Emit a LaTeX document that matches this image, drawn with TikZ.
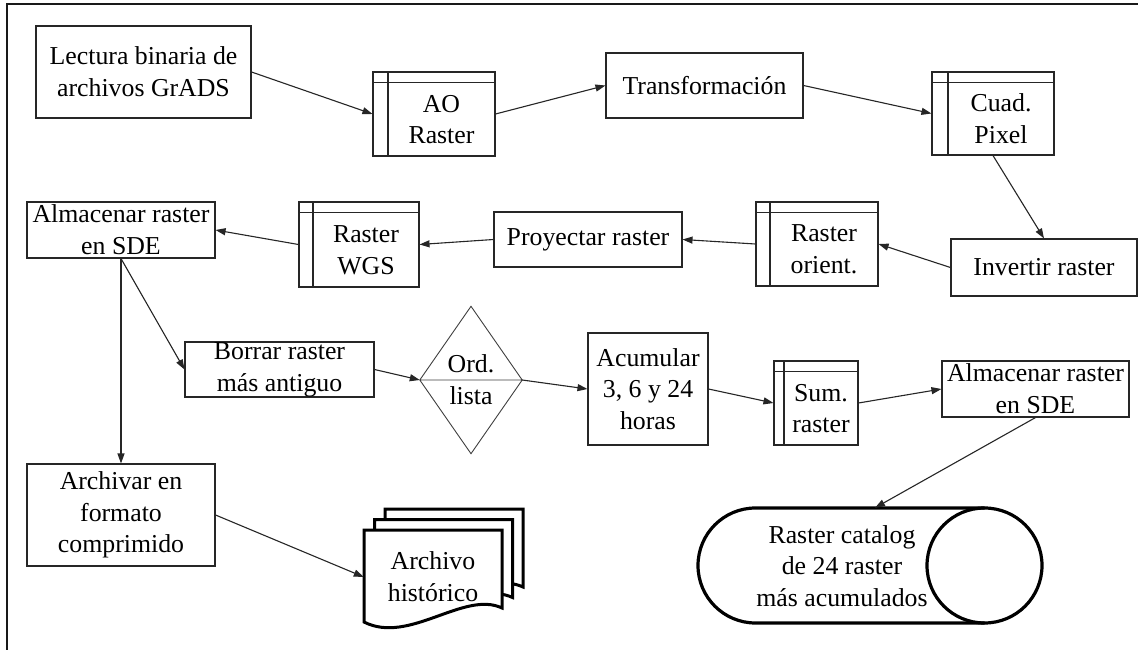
\documentclass[tikz,border=0pt]{standalone}
\usepackage{fontspec}
\setmainfont{Liberation Serif}
\usetikzlibrary{arrows.meta,calc}
\begin{document}
\begin{tikzpicture}[x=1pt,y=1pt,
  txt/.style={align=center,font=\fontsize{25.8}{31.7}\selectfont,inner sep=0pt},
  box/.style={txt,draw=black!85,line width=1.1pt},
  store/.style={draw=black!85,line width=1.1pt,inner sep=0pt,path picture={
     \draw[black!85,line width=1.1pt] ([xshift=#1pt]path picture bounding box.north west) -- ([xshift=#1pt]path picture bounding box.south west);
     \draw[black!85,line width=1.1pt] ([yshift=-10.5pt]path picture bounding box.north west) -- ([yshift=-10.5pt]path picture bounding box.north east);}},
  store/.default=15,
  arr/.style={-{Triangle[length=10pt,width=7pt]},line width=1.1pt,black!85},
  heavy/.style={line width=3.2pt,black},
  docshape/.style={line width=3pt,black,fill=white}
]
\useasboundingbox (0,0) rectangle (1138,-650);
\fill[white] (0,0) rectangle (1138,-650);
% frame
\draw[line width=2pt,black!90] (7,-652) -- (7,-4) -- (1140,-4);

% top row
\node[box,minimum width=215pt,minimum height=92pt] (lect) at (143.5,-72) {Lectura binaria de\\archivos GrADS};
\node[store,minimum width=122pt,minimum height=84pt] (ao) at (434,-114) {};
\node[txt] (aot) at ([shift={(7.5,-5.5)}]ao.center) {AO\\Raster};
\node[box,minimum width=197pt,minimum height=65pt] (tr) at (704.5,-85.5) {Transformación};
\node[store=16,minimum width=122pt,minimum height=83pt] (cuad) at (993,-113.5) {};
\node[txt] (cuadt) at ([shift={(8,-5.5)}]cuad.center) {Cuad.\\Pixel};

% second row
\node[box,minimum width=186pt,minimum height=57pt] (inv) at (1044,-267.5) {Invertir raster};
\node[store=14,minimum width=122pt,minimum height=84pt] (ori) at (817,-244) {};
\node[txt] (orit) at ([shift={(7,-5.5)}]ori.center) {Raster\\orient.};
\node[box,minimum width=188pt,minimum height=55pt] (proy) at (588,-239.5) {Proyectar raster};
\node[store=14,minimum width=120pt,minimum height=85pt] (wgs) at (359,-244.5) {};
\node[txt] (wgst) at ([shift={(7,-5.5)}]wgs.center) {Raster\\WGS};
\node[box,minimum width=188pt,minimum height=56pt] (alm1) at (121,-230) {Almacenar raster\\en SDE};

% third row
\node[box,minimum width=189pt,minimum height=55pt] (bor) at (279.5,-369.5) {Borrar raster\\más antiguo};
\node[txt,minimum width=102pt,minimum height=147pt] (dia) at (471,-380) {Ord.\\lista};
\draw[black!75,line width=0.9pt] (dia.north) -- (dia.east) -- (dia.south) -- (dia.west) -- cycle
  (dia.west) -- (dia.east);
\node[box,minimum width=120pt,minimum height=112pt] (acu) at (648,-389) {Acumular\\3, 6 y 24\\horas};
\node[store=10,minimum width=84pt,minimum height=84pt] (sum) at (816,-403) {};
\node[txt] (sumt) at ([shift={(5,-5.5)}]sum.center) {Sum.\\raster};
\node[box,minimum width=187pt,minimum height=56pt] (alm2) at (1035.5,-389) {Almacenar raster\\en SDE};

% bottom
\node[box,minimum width=188pt,minimum height=102pt] (arch) at (121,-515) {Archivar en\\formato\\comprimido};

% document stack
\coordinate (docnw) at (364,-530);
\foreach \d in {21,10.5,0}{
  \draw[docshape,shift={(docnw)},shift={(\d,\d)}] (0,0) -- (138,0) -- (138,-78)
    .. controls (100,-60) and (45,-115) .. (0,-92) -- cycle;
}
\node[txt,minimum width=138pt,minimum height=94pt] (hist) at (433,-577) {Archivo\\histórico};

% cylinder
\draw[heavy] (984.5,-508) -- (755.5,-508) arc[start angle=90,end angle=270,radius=57.5] -- (984.5,-623);
\draw[heavy] (984.5,-565.5) circle[radius=57.5];
\node[inner sep=0pt,minimum width=344pt,minimum height=115pt] (cyl) at (870,-565.5) {};
\node[txt] (cylt) at (842,-566) {Raster catalog\\de 24 raster\\más acumulados};

% connectors
\draw[arr] (lect.east) -- (ao.west);
\draw[arr] (ao.east) -- (tr.west);
\draw[arr] (tr.east) -- (cuad.west);
\draw[arr] (cuad.south) -- (inv.north);
\draw[arr] (inv.west) -- (ori.east);
\draw[arr] (ori.west) -- (proy.east);
\draw[arr] (proy.west) -- (wgs.east);
\draw[arr] (wgs.west) -- (alm1.east);
\draw[arr] (alm1.south) -- (arch.north);
\draw[arr] (alm1.south) -- (bor.west);
\draw[arr] (bor.east) -- (dia.west);
\draw[arr] (dia.east) -- (acu.west);
\draw[arr] (acu.east) -- (sum.west);
\draw[arr] (sum.east) -- (alm2.west);
\draw[arr] (alm2.south) -- ([xshift=5pt]cyl.north);
\draw[arr] (arch.east) -- (hist.west);
\end{tikzpicture}
\end{document}
